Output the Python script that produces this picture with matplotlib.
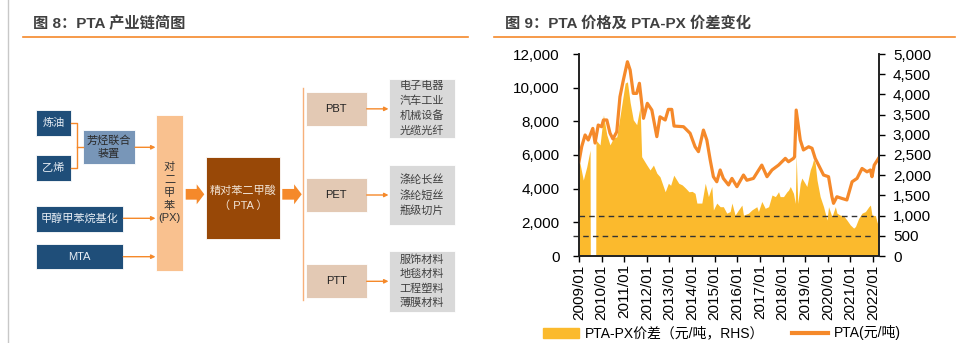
import matplotlib
matplotlib.use('Agg')
from matplotlib import pyplot as plt
from matplotlib.patches import Rectangle, FancyArrow, Patch
from matplotlib.lines import Line2D
import numpy as np

plt.rcParams['font.family'] = ['Liberation Sans', 'Noto Sans CJK SC']

# datos (ano decimal)
pta_t = [2009.00, 2009.12, 2009.27, 2009.41, 2009.61, 2009.71, 2009.85, 2010.00, 2010.08,
         2010.23, 2010.37, 2010.50, 2010.67, 2010.81, 2010.96, 2011.14, 2011.26, 2011.40,
         2011.55, 2011.67, 2011.85, 2012.02, 2012.22, 2012.44, 2012.58, 2012.81, 2012.95,
         2013.10, 2013.20, 2013.62, 2013.91, 2014.13, 2014.28, 2014.50, 2014.65, 2014.80,
         2014.94, 2015.09, 2015.24, 2015.38, 2015.61, 2015.76, 2015.98, 2016.27, 2016.42,
         2016.71, 2017.08, 2017.31, 2017.53, 2017.82, 2018.12, 2018.26, 2018.48, 2018.53,
         2018.60, 2018.78, 2018.92, 2019.15, 2019.30, 2019.44, 2019.59, 2019.81, 2020.03,
         2020.18, 2020.25, 2020.40, 2020.62, 2020.84, 2021.07, 2021.29, 2021.51, 2021.73,
         2021.88, 2021.95, 2022.05, 2022.24]
pta = [5600, 6500, 7190, 6890, 7580, 6710, 7780, 7680, 8080,
       8080, 7300, 6950, 7380, 9460, 10450, 11540, 11050, 9660,
       9660, 10260, 8180, 9070, 8670, 7090, 8270, 8080, 8710,
       8710, 7720, 7680, 7290, 6490, 6200, 7480, 6890, 5700,
       4710, 4410, 5110, 4610, 4220, 4610, 4120, 4810, 4500,
       4610, 5400, 4710, 5110, 5400, 5800, 5600, 5800, 5900,
       8670, 6890, 6300, 6490, 6400, 5800, 5400, 4810, 4710,
       3520, 3130, 3520, 3420, 3330, 4410, 4610, 5200, 5000,
       5110, 4710, 5400, 5800]

spread_t = [2009.00, 2009.04, 2009.19, 2009.34, 2009.49, 2009.50, 2009.74, 2009.75, 2009.93,
            2010.08, 2010.23, 2010.37, 2010.52, 2010.67, 2010.81, 2011.04, 2011.14, 2011.26,
            2011.40, 2011.55, 2011.70, 2011.77, 2012.00, 2012.14, 2012.29, 2012.44, 2012.58,
            2012.81, 2012.95, 2013.05, 2013.19, 2013.41, 2013.56, 2013.71, 2013.86, 2014.00,
            2014.13, 2014.21, 2014.43, 2014.58, 2014.72, 2014.87, 2014.94, 2015.09, 2015.24,
            2015.38, 2015.53, 2015.68, 2015.76, 2015.90, 2016.05, 2016.20, 2016.27, 2016.49,
            2016.64, 2016.86, 2016.93, 2017.08, 2017.23, 2017.38, 2017.53, 2017.68, 2017.82,
            2017.89, 2018.04, 2018.19, 2018.26, 2018.34, 2018.48, 2018.56, 2018.60, 2018.67,
            2018.78, 2018.85, 2018.99, 2019.07, 2019.22, 2019.30, 2019.37, 2019.44, 2019.52,
            2019.66, 2019.81, 2019.96, 2020.03, 2020.18, 2020.33, 2020.40, 2020.55, 2020.69,
            2020.84, 2020.99, 2021.14, 2021.22, 2021.36, 2021.51, 2021.66, 2021.81, 2021.88,
            2021.95, 2022.10, 2022.17, 2022.20]
spread = [2300, 2300, 1880, 2200, 2620, 0, 0, 2870, 2750,
          3490, 3000, 2750, 2920, 2950, 3450, 4280, 4310, 3800,
          3370, 3250, 3700, 2460, 2250, 2130, 2250, 2050, 1960,
          1590, 1800, 1750, 2000, 1800, 1760, 1680, 1590, 1600,
          1550, 1310, 1310, 1800, 1470, 1720, 1140, 1310, 1220,
          1220, 1060, 1100, 1310, 1010, 1140, 1260, 1010, 1060,
          1140, 1220, 1100, 1350, 1180, 1220, 1510, 1470, 1590,
          1470, 1470, 1590, 1630, 1720, 1550, 1300, 2500, 1300,
          1800, 1930, 1800, 1720, 2130, 2250, 2400, 2290, 1880,
          1470, 1220, 890, 1220, 970, 1220, 1060, 1010, 1000,
          890, 770, 690, 730, 930, 1060, 1100, 1220, 1260,
          1010, 1000, 850, 800]

lineas_ref = [1000, 500]
anios = list(range(2009, 2023))
yticks_izq = [0, 2000, 4000, 6000, 8000, 10000, 12000]
yticks_der = [0, 500, 1000, 1500, 2000, 2500, 3000, 3500, 4000, 4500, 5000]

naranja = '#F5892A'
amarillo = '#FBBA2D'
azul = '#1F4E79'


def caja(ax, x0, y0, x1, y1, color, texto='', tcolor='white', size=8, ls=1.45):
    ax.add_patch(Rectangle((x0, y0), x1 - x0, y1 - y0, facecolor=color,
                           edgecolor='white', lw=0.6))
    if texto:
        ax.text((x0 + x1) / 2, (y0 + y1) / 2, texto, ha='center', va='center',
                color=tcolor, fontsize=size, linespacing=ls)


def flecha(ax, x0, x1, y):
    ax.annotate('', xy=(x1, y), xytext=(x0, y),
                arrowprops=dict(arrowstyle='-|>', color=naranja, lw=1,
                                mutation_scale=6, shrinkA=0, shrinkB=0))


fig = plt.figure(figsize=(9.6, 3.43), dpi=100)

# ---- panel izquierdo: diagrama ----
axd = fig.add_axes([0, 0, 1, 1])
axd.set_xlim(0, 960)
axd.set_ylim(343, 0)
axd.axis('off')

axd.plot([8.3, 8.3], [0, 343], color='#C8C8C8', lw=1)
axd.plot([23, 468], [36.7, 36.7], color=naranja, lw=1.2)
axd.plot([494, 955], [36.7, 36.7], color=naranja, lw=1.2)
axd.text(33, 23.5, '图 8：PTA 产业链简图', fontsize=11, weight='bold', color='#404040', va='center')
axd.text(505, 23.5, '图 9：PTA 价格及 PTA-PX 价差变化', fontsize=11, weight='bold', color='#404040', va='center')

caja(axd, 36, 110, 71, 136, azul, '炼油', tcolor='#E8EEF5')
caja(axd, 36, 155, 71, 181, azul, '乙烯', tcolor='#E8EEF5')
axd.plot([71, 77, 77, 71], [123, 123, 168, 168], color=naranja, lw=1)
axd.plot([77, 83], [147, 147], color=naranja, lw=1)
caja(axd, 83, 130, 135, 164.3, '#7896B8', '芳烃联合\n装置', tcolor='#2A2A2A')
flecha(axd, 135, 155.5, 147.3)
caja(axd, 36, 206, 123.3, 231.7, azul, '甲醇甲苯烷基化', tcolor='#E8EEF5')
flecha(axd, 123.3, 155.5, 218.3)
caja(axd, 36, 244.3, 123.3, 269.3, azul, 'MTA', tcolor='#E8EEF5')
flecha(axd, 123.3, 155.5, 256.7)
caja(axd, 155.7, 115, 183.3, 270.7, '#F9C18F', '对\n二\n甲\n苯\n(PX)', tcolor='#333333', ls=1.35)

axd.add_patch(FancyArrow(185.7, 194.3, 18.6, 0, width=10.7, head_width=20,
                         head_length=7.6, length_includes_head=True, color=naranja, lw=0))
caja(axd, 205.7, 157.3, 280, 239, '#984807', '精对苯二甲酸\n（ PTA ）', tcolor='#F2E4D6')
axd.add_patch(FancyArrow(282.3, 194.3, 19.4, 0, width=10.7, head_width=20,
                         head_length=7.6, length_includes_head=True, color=naranja, lw=0))
axd.plot([302.7, 302.7], [88, 300], color='#F7B07A', lw=1)

productos = ['PBT', 'PET', 'PTT']
prod_y = [(91.7, 126), (177.7, 212.3), (264.3, 298.3)]
usos = ['电子电器\n汽车工业\n机械设备\n光缆光纤', '涤纶长丝\n涤纶短丝\n瓶级切片',
        '服饰材料\n地毯材料\n工程塑料\n薄膜材料']
usos_y = [(79.3, 138.3), (165.3, 225), (250.7, 311.7)]
for p, (a, b), u, (c, d) in zip(productos, prod_y, usos, usos_y):
    caja(axd, 305.7, a, 366.7, b, '#E3C9B4', p, tcolor='#222222')
    flecha(axd, 366.7, 388.5, (a + b) / 2)
    caja(axd, 389, c, 455, d, '#D9D9D9', u, tcolor='#404040', ls=1.5)

# ---- panel derecho: grafico ----
ax = fig.add_axes([579 / 960, 87 / 343, 300 / 960, 202 / 343])
ax2 = ax.twinx()
ax.set_zorder(ax2.get_zorder() + 1)
ax.patch.set_visible(False)

ax2.fill_between(spread_t, spread, 0, color=amarillo, lw=0)
ax2.hlines(lineas_ref[0], 2009.0, 2022.0, colors='#333333', linestyles=(0, (4, 3)), lw=1)
ax2.hlines(lineas_ref[1], 2008.75, 2022.0, colors='#333333', linestyles=(0, (4, 3)), lw=1,
           clip_on=False)
ax.plot(pta_t, pta, color=naranja, lw=2.3, solid_joinstyle='round')

ax.set_xlim(2009.0, 2022.26)
ax.set_ylim(0, 12000)
ax2.set_ylim(0, 5000)
ax.set_xticks(anios)
ax.set_xticklabels([f'{a}/01' for a in anios], rotation=90, fontsize=11)
ax.set_yticks(yticks_izq)
ax.set_yticklabels([f'{v:,}' for v in yticks_izq], fontsize=11)
ax2.set_yticks(yticks_der)
ax2.set_yticklabels([f'{v:,}' for v in yticks_der], fontsize=11)
ax.tick_params(axis='y', direction='out', length=4, width=1, pad=10)
ax.tick_params(axis='x', direction='out', length=4, width=1, pad=2)
ax2.tick_params(axis='y', direction='out', length=4, width=1, pad=6)
for a in (ax, ax2):
    a.spines['top'].set_visible(False)
    for s in ('left', 'right', 'bottom'):
        a.spines[s].set_linewidth(1.2)
        a.spines[s].set_color('#222222')

handles = [Patch(color=amarillo), Line2D([], [], color=naranja, lw=3)]
fig.legend(handles, ['PTA-PX价差（元/吨，RHS）', 'PTA(元/吨)'], loc='center',
           bbox_to_anchor=(722 / 960, 10 / 343), ncol=2, frameon=False, fontsize=10,
           handlelength=2.6, handletextpad=0.4, columnspacing=2.0)

fig.savefig('out.png', dpi=100)
